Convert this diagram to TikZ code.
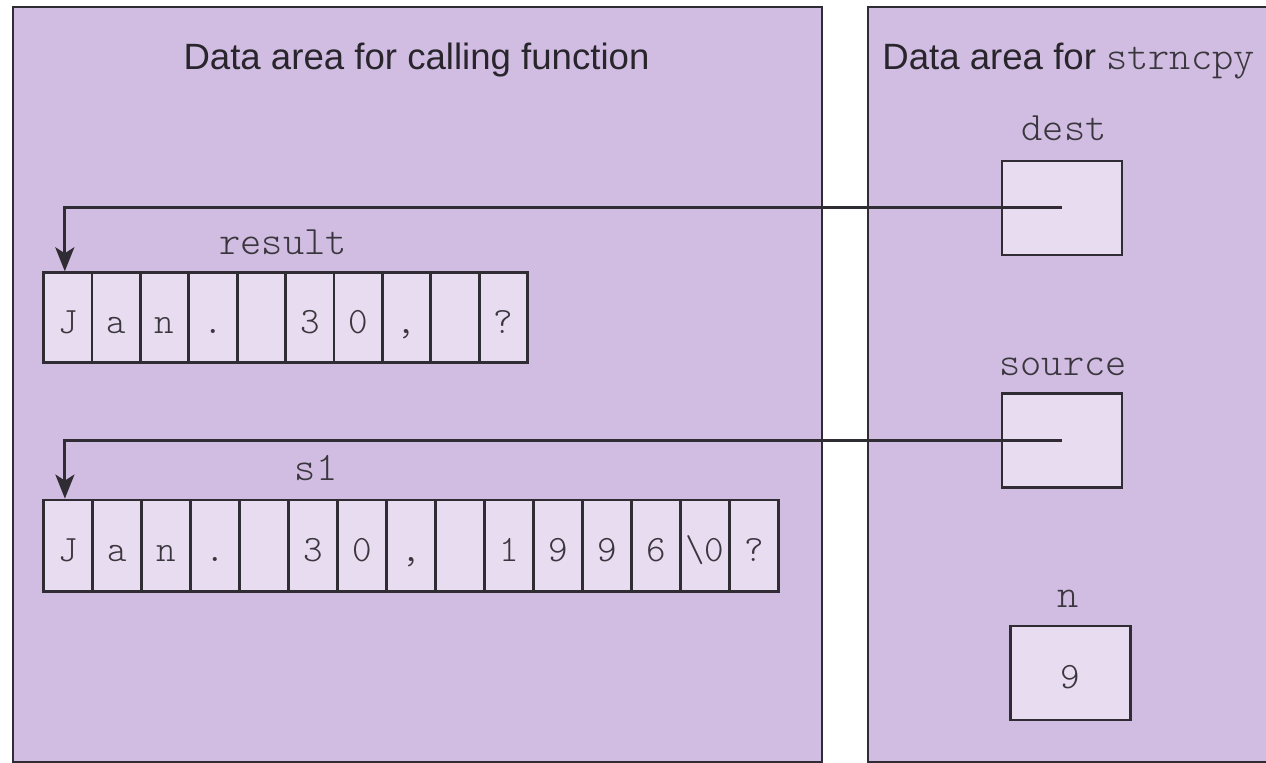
\documentclass[tikz,border=0pt]{standalone}
\usepackage{fontspec}
\setmainfont{Liberation Sans}
\newfontfamily\codefont{Latin Modern Mono Light}
\usetikzlibrary{arrows.meta,calc}
\definecolor{panelfill}{RGB}{210,189,226}
\definecolor{boxfill}{RGB}{232,220,240}
\definecolor{inkline}{RGB}{48,44,52}
\definecolor{inktext}{RGB}{40,38,44}
\definecolor{codetext}{RGB}{58,54,62}
\newcommand{\codesize}{\codefont\fontsize{20.2}{22}\selectfont}
\newcommand{\cellsize}{\codefont\fontsize{18.6}{20}\selectfont}
\tikzset{
  panel/.style={draw=inkline, line width=1.2pt, fill=panelfill},
  cellbox/.style={draw=inkline, line width=1.4pt, fill=boxfill, inner sep=0pt,
    text height=16pt, text depth=0pt, font=\cellsize, text=codetext},
  varbox/.style={cellbox, minimum width=60pt, minimum height=47pt},
  varname/.style={anchor=base, inner sep=0pt, font=\codesize, text=codetext},
  title/.style={anchor=base, inner sep=0pt, font=\fontsize{18.3}{22}\selectfont, text=inktext},
  pointer/.style={draw=inkline, line width=1.5pt,
    -{Stealth[length=12pt,width=9.5pt,inset=3pt]}}
}
\begin{document}
\begin{tikzpicture}[x=0.5pt,y=-0.5pt]
  \useasboundingbox (0,0) rectangle (1266,763);
  \clip (0,0) rectangle (1266,763);

  % the two stack frames
  \path[panel] (13,7) rectangle (822,762);
  \path[panel] (868,7) rectangle (1300,762);

  \node[title] (calltitle) at (416.5,69.3) {Data area for calling function};
  \node[title, anchor=base west] (copytitle) at (882,69.3)
    {Data area for {\codesize\color{codetext}strncpy}};

  % array result
  \node[varname] (resultname) at (283,255) {result};
  \foreach \ch [count=\i from 0] in {J,a,n,.,{},3,0,{,},{},?}
    \node[cellbox, minimum width=24.2pt, minimum height=45pt] (r\i)
      at ({43.6+48.4*(\i+0.5)},317.7) {\ch};

  % array s1
  \node[varname] (s1name) at (316,481) {s1};
  \foreach \ch [count=\i from 0] in {J,a,n,.,{},3,0,{,},{},1,9,9,6,{\textbackslash 0},?}
    \node[cellbox, minimum width=24.5pt, minimum height=45.8pt] (s\i)
      at ({43.4+49*(\i+0.5)},545.8) {\ch};

  % parameters of strncpy
  \node[varname] (destname) at (1064,141) {dest};
  \node[varbox] (dest) at (1062,208) {};
  \node[varname] (sourcename) at (1063,376) {source};
  \node[varbox] (source) at (1062,440.3) {};
  \node[varname] (nname) at (1068,608) {n};
  \node[varbox] (n) at (1070.7,673) {9};

  % pointer parameters
  \draw[pointer] (dest.center) -| ($(r0.north)+(-3,0)$);
  \draw[pointer] (source.center) -| ($(s0.north)+(-3,0)$);
\end{tikzpicture}
\end{document}
